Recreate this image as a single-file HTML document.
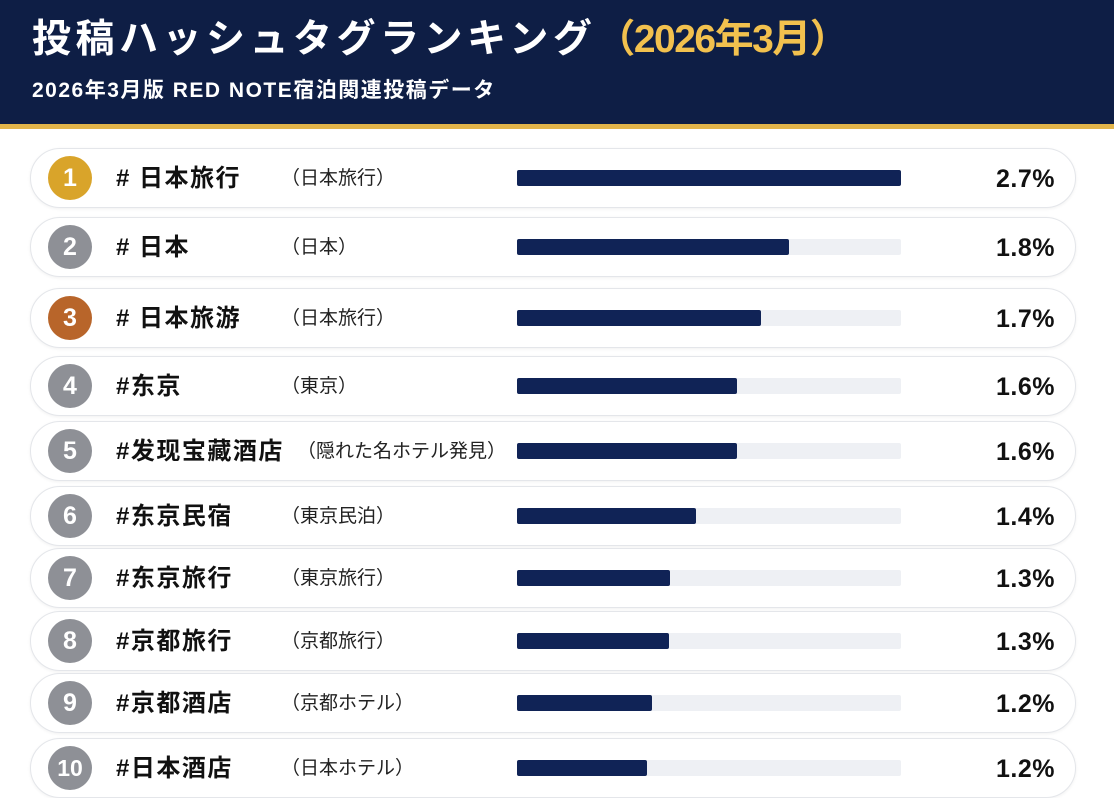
<!DOCTYPE html>
<html><head><meta charset="utf-8"><style>
body{margin:0;width:1114px;height:790px;overflow:hidden;background:#fff;font-family:"Liberation Sans","Noto Sans CJK JP",sans-serif;position:relative}
.hd{position:absolute;left:0;top:0;width:1114px;height:124px;background:#0e1e45}
.gl{position:absolute;left:0;top:124px;width:1114px;height:5px;background:#e2b44a}
.t{position:absolute;left:32px;top:14px;font-size:39px;font-weight:bold;color:#fff;white-space:nowrap;line-height:52px;letter-spacing:4.5px}
.t span{color:#f2c14e;letter-spacing:-1.5px}
.s{position:absolute;left:32px;top:76px;font-size:21px;font-weight:bold;color:#fff;line-height:30px;white-space:nowrap;letter-spacing:1.5px}
.r{position:absolute;left:30px;width:1044px;height:58px;border:1px solid #e4e6ea;border-radius:30px;background:#fff;box-shadow:0 1px 3px rgba(0,0,0,.06)}
.c{position:absolute;left:17px;top:7px;width:44px;height:44px;border-radius:50%;background:#8e9096;color:#fff;font-weight:bold;font-size:25px;text-align:center;line-height:44px}
.h{position:absolute;left:85px;top:1px;line-height:58px;font-size:24px;font-weight:bold;color:#111;white-space:nowrap;letter-spacing:1.5px}
.p{position:absolute;left:250px;top:1px;line-height:58px;font-size:19px;color:#222;white-space:nowrap}
.tr{position:absolute;left:486px;top:21px;width:384px;height:16px;background:#eef0f4;border-radius:2px}
.b{height:16px;background:#102356;border-radius:2px}
.v{position:absolute;right:20px;top:1px;line-height:58px;font-size:25px;font-weight:bold;color:#111;letter-spacing:0.5px}
</style></head><body>
<div class="hd"></div><div class="gl"></div>
<div class="t">投稿ハッシュタグランキング<span>（2026年3月）</span></div>
<div class="s">2026年3月版 RED NOTE宿泊関連投稿データ</div>

<div class="r" style="top:148px"><div class="c" style="background:#d9a42a">1</div><div class="h"># 日本旅行</div><div class="p">（日本旅行）</div><div class="tr"><div class="b" style="width:384px"></div></div><div class="v">2.7%</div></div>
<div class="r" style="top:217px"><div class="c">2</div><div class="h"># 日本</div><div class="p">（日本）</div><div class="tr"><div class="b" style="width:272px"></div></div><div class="v">1.8%</div></div>
<div class="r" style="top:288px"><div class="c" style="background:#b8652a">3</div><div class="h"># 日本旅游</div><div class="p">（日本旅行）</div><div class="tr"><div class="b" style="width:244px"></div></div><div class="v">1.7%</div></div>
<div class="r" style="top:356px"><div class="c">4</div><div class="h">#东京</div><div class="p">（東京）</div><div class="tr"><div class="b" style="width:220px"></div></div><div class="v">1.6%</div></div>
<div class="r" style="top:421px"><div class="c">5</div><div class="h">#发现宝藏酒店</div><div class="p" style="left:266px">（隠れた名ホテル発見）</div><div class="tr"><div class="b" style="width:220px"></div></div><div class="v">1.6%</div></div>
<div class="r" style="top:486px"><div class="c">6</div><div class="h">#东京民宿</div><div class="p">（東京民泊）</div><div class="tr"><div class="b" style="width:179px"></div></div><div class="v">1.4%</div></div>
<div class="r" style="top:548px"><div class="c">7</div><div class="h">#东京旅行</div><div class="p">（東京旅行）</div><div class="tr"><div class="b" style="width:153px"></div></div><div class="v">1.3%</div></div>
<div class="r" style="top:611px"><div class="c">8</div><div class="h">#京都旅行</div><div class="p">（京都旅行）</div><div class="tr"><div class="b" style="width:152px"></div></div><div class="v">1.3%</div></div>
<div class="r" style="top:673px"><div class="c">9</div><div class="h">#京都酒店</div><div class="p">（京都ホテル）</div><div class="tr"><div class="b" style="width:135px"></div></div><div class="v">1.2%</div></div>
<div class="r" style="top:738px"><div class="c" style="font-size:23px">10</div><div class="h">#日本酒店</div><div class="p">（日本ホテル）</div><div class="tr"><div class="b" style="width:130px"></div></div><div class="v">1.2%</div></div>
</body></html>
